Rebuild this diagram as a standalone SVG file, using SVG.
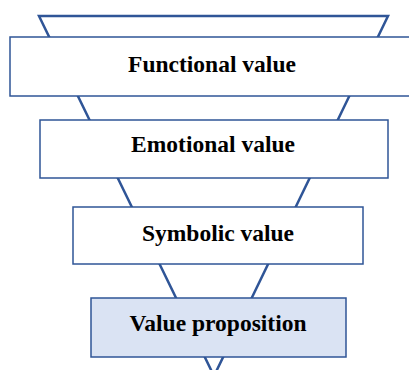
<svg xmlns="http://www.w3.org/2000/svg" width="409" height="370" viewBox="0 0 409 370">
<style>
.box{fill:#ffffff;stroke:#2f5597;stroke-width:1.5}
.vp{fill:#dae3f3;stroke:#2f5597;stroke-width:1.5}
.lbl{font-family:"Liberation Serif","Times New Roman",serif;font-weight:bold;font-size:23.5px;fill:#000;text-anchor:middle}
</style>
<rect width="409" height="370" fill="#ffffff"/>
<g id="connectors">
<polygon points="39,16 388,16 214,376" fill="#ffffff" stroke="#2f5597" stroke-width="2.5" stroke-linejoin="miter"/>
</g>
<g id="functional">
<rect class="box" x="10" y="37" width="402" height="59"/>
<text class="lbl" x="212" y="72">Functional value</text>
</g>
<g id="emotional">
<rect class="box" x="40" y="120" width="348" height="58"/>
<text class="lbl" x="213" y="152">Emotional value</text>
</g>
<g id="symbolic">
<rect class="box" x="73" y="207" width="290" height="57"/>
<text class="lbl" x="218" y="241">Symbolic value</text>
</g>
<g id="proposition">
<rect class="vp" x="91" y="298" width="255" height="59"/>
<text class="lbl" x="218" y="331">Value proposition</text>
</g>
</svg>
